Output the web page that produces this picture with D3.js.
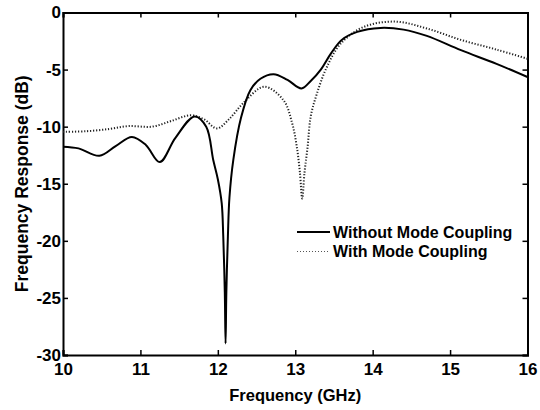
<!DOCTYPE html>
<html>
<head>
<meta charset="utf-8">
<script src="https://cdn.jsdelivr.net/npm/d3@7"></script>
<style>
  body { margin: 0; background: #fff; }
  text { font-family: Arial, "Liberation Sans", sans-serif; font-weight: bold; fill: #000; }
</style>
</head>
<body>
<div id="chart"></div>
<script>
// Frequency response
var freqWithout = [10.0, 10.2, 10.47, 10.68, 10.89, 11.07, 11.25, 11.45, 11.7, 11.85, 11.94, 12.0, 12.05, 12.07, 12.09, 12.1, 12.11, 12.13, 12.15, 12.2, 12.3, 12.42, 12.55, 12.72, 12.9, 13.08, 13.2, 13.33, 13.46, 13.6, 13.8, 14.1, 14.4, 14.7, 15.14, 15.6, 16.0];
var respWithout = [-11.75, -11.9, -12.55, -11.7, -10.9, -11.6, -13.1, -11.0, -9.1, -10.0, -12.9, -14.6, -16.7, -19.6, -24.5, -29.0, -24.5, -19.6, -16.2, -12.9, -9.2, -6.8, -5.8, -5.4, -5.9, -6.65, -6.0, -5.0, -3.6, -2.4, -1.7, -1.35, -1.5, -2.05, -3.3, -4.5, -5.65];

var freqWith = [10.0, 10.3, 10.6, 10.85, 11.15, 11.4, 11.65, 11.82, 11.99, 12.15, 12.34, 12.6, 12.85, 12.96, 13.02, 13.06, 13.09, 13.12, 13.16, 13.2, 13.28, 13.41, 13.59, 13.89, 14.3, 14.7, 15.14, 15.6, 16.0];
var respWith = [-10.45, -10.4, -10.2, -9.95, -10.0, -9.5, -9.0, -9.35, -10.15, -9.3, -7.85, -6.5, -7.7, -9.7, -11.75, -14.0, -16.3, -14.0, -11.75, -9.1, -7.1, -4.75, -2.7, -1.25, -0.8, -1.4, -2.4, -3.25, -4.05];

var xTicks = [10, 11, 12, 13, 14, 15, 16];
var yTicks = [0, -5, -10, -15, -20, -25, -30];
var legendLabels = ["Without Mode Coupling", "With Mode Coupling"];

var width = 540,
    height = 410,
    margin = { left: 63, top: 12.5, right: 12.5, bottom: 55 };

var innerW = width - margin.left - margin.right,
    innerH = height - margin.top - margin.bottom;

var svg = d3.select("#chart").append("svg")
    .attr("width", width)
    .attr("height", height);

var g = svg.append("g")
    .attr("transform", "translate(" + margin.left + "," + margin.top + ")");

var x = d3.scaleLinear().domain([10, 16]).range([0, innerW]);
var y = d3.scaleLinear().domain([-30, 0]).range([innerH, 0]);

// plain hyphen for negatives, like the original
var fmt = function (d) { return String(d); };

// axes, ticks pointing inward on all four sides
var axisFont = 17;
g.append("g")
    .attr("transform", "translate(0," + innerH + ")")
    .call(d3.axisBottom(x).tickValues(xTicks).tickSize(-5).tickPadding(8).tickFormat(fmt))
    .call(function (a) { a.selectAll("text").style("font-size", axisFont + "px"); });

g.append("g")
    .call(d3.axisLeft(y).tickValues(yTicks).tickSize(-5).tickPadding(2).tickFormat(fmt))
    .call(function (a) { a.selectAll("text").style("font-size", axisFont + "px"); });

g.append("g")
    .call(d3.axisTop(x).tickValues(xTicks).tickSize(-5).tickFormat(""));

g.append("g")
    .attr("transform", "translate(" + innerW + ",0)")
    .call(d3.axisRight(y).tickValues(yTicks).tickSize(-5).tickFormat(""));

g.selectAll(".domain").attr("stroke", "#000").attr("stroke-width", 2);
g.selectAll(".tick line").attr("stroke", "#000").attr("stroke-width", 1.5);

var line = d3.line()
    .x(function (d) { return x(d[0]); })
    .y(function (d) { return y(d[1]); })
    .curve(d3.curveCatmullRom.alpha(0.5));

g.append("path")
    .datum(d3.zip(freqWith, respWith))
    .attr("fill", "none")
    .attr("stroke", "#222")
    .attr("stroke-width", 2)
    .attr("stroke-dasharray", "1.2,1.8")
    .attr("d", line);

g.append("path")
    .datum(d3.zip(freqWithout, respWithout))
    .attr("fill", "none")
    .attr("stroke", "#000")
    .attr("stroke-width", 2)
    .attr("d", line);

// legend
var legend = svg.append("g").attr("transform", "translate(297,232)");
legend.append("line")
    .attr("x1", 0).attr("x2", 33).attr("y1", 0).attr("y2", 0)
    .attr("stroke", "#000").attr("stroke-width", 2);
legend.append("line")
    .attr("x1", 0).attr("x2", 33).attr("y1", 19.5).attr("y2", 19.5)
    .attr("stroke", "#555").attr("stroke-width", 1.2)
    .attr("stroke-dasharray", "1,2");
legend.selectAll("text.lab")
    .data(legendLabels)
    .enter().append("text")
    .attr("class", "lab")
    .attr("x", 36)
    .attr("y", function (d, i) { return i * 19.5 + 5.5; })
    .style("font-size", "16px")
    .text(function (d) { return d; });

// axis titles
svg.append("text")
    .attr("x", margin.left + innerW / 2)
    .attr("y", 401)
    .attr("text-anchor", "middle")
    .style("font-size", "16.5px")
    .text("Frequency (GHz)");

svg.append("text")
    .attr("transform", "translate(28," + (margin.top + innerH / 2) + ") rotate(-90)")
    .attr("text-anchor", "middle")
    .style("font-size", "17.5px")
    .text("Frequency Response (dB)");
</script>
</body>
</html>
